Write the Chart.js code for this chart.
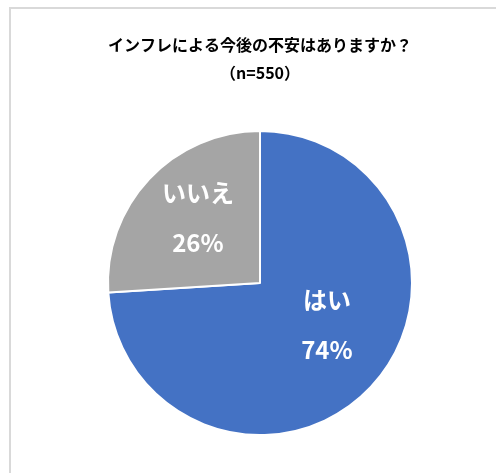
<!DOCTYPE html>
<html>
<head>
<meta charset="utf-8">
<script src="https://cdn.jsdelivr.net/npm/chart.js@4"></script>
<style>
	html, body { margin: 0; padding: 0; background: #fff; }
	#wrap { position: relative; width: 496px; height: 473px; overflow: hidden; }
	#frame { position: absolute; left: 9px; top: 7px; width: 600px; height: 600px; border-top: 2px solid #d9d9d9; border-left: 2px solid #d9d9d9; }
	#pieChart { position: absolute; left: 0; top: 0; }
</style>
</head>
<body>
<div id="wrap">
	<div id="frame"></div>
	<canvas id="pieChart" width="496" height="473"></canvas>
</div>
<script>
"use strict";

var titleLines = ["インフレによる今後の不安はありますか？", "（n=550）"];
var categories = ["はい", "いいえ"];
var percents = [74, 26];
var sliceColors = ["#4472C4", "#A5A5A5"];

// label placement inside each slice (fraction of radius, angle shift in degrees)
var labelRadius = [0.52, 0.59];
var labelShift = [-11, 3];

var sliceLabels = {
	id: "sliceLabels",
	afterDatasetsDraw: function (chart) {
		var ctx = chart.ctx;
		var meta = chart.getDatasetMeta(0);
		ctx.save();
		ctx.fillStyle = "#fff";
		ctx.textAlign = "center";
		ctx.textBaseline = "middle";
		ctx.font = "bold 24px 'Noto Sans CJK JP', sans-serif";
		meta.data.forEach(function (arc, i) {
			var p = arc.getProps(["x", "y", "startAngle", "endAngle", "outerRadius"], true);
			var mid = (p.startAngle + p.endAngle) / 2 + labelShift[i] * Math.PI / 180;
			var r = p.outerRadius * labelRadius[i];
			var x = p.x + Math.cos(mid) * r;
			var y = p.y + Math.sin(mid) * r;
			ctx.fillText(categories[i], x, y - 25);
			ctx.fillText(percents[i] + "%", x, y + 25);
		});
		ctx.restore();
	},
};

function initPieChart() {
	var pieChart = document.getElementById("pieChart");
	new Chart(pieChart, {
		type: "pie",
		data: {
			labels: categories,
			datasets: [
				{
					data: percents,
					backgroundColor: sliceColors,
					borderColor: "#fff",
					borderWidth: 2,
				},
			],
		},
		options: {
			responsive: false,
			animation: false,
			layout: {
				padding: { top: 0, bottom: 37, left: 107, right: 83 },
			},
			plugins: {
				legend: { display: false },
				tooltip: { enabled: false },
				title: {
					display: true,
					text: titleLines,
					color: "#000",
					font: { family: "'Noto Sans CJK JP', sans-serif", size: 16, weight: "bold", lineHeight: 1.75 },
					padding: { top: 31, bottom: 43 },
				},
			},
		},
		plugins: [sliceLabels],
	});
}

(function () {
	initPieChart();
})();
</script>
</body>
</html>
